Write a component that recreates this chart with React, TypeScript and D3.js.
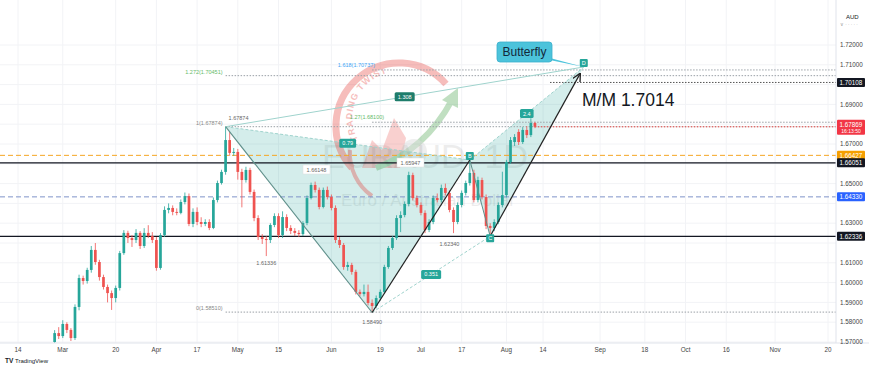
import React, { useEffect } from 'react';
import * as d3 from 'd3';

// EUR/AUD daily, Feb 27 .. Aug 10 (weekday index from Feb 14)
const firstDay = 9;
const opens = [1.5700,1.5745,1.5730,1.5791,1.5761,1.5720,1.5877,1.6023,1.6008,1.6064,1.6165,1.6104,1.6028,1.5978,1.5947,1.5922,1.5973,1.6149,1.6251,1.6225,1.6215,1.6251,1.6185,1.6251,1.6235,1.6215,1.6074,1.6240,1.6367,1.6377,1.6357,1.6352,1.6407,1.6437,1.6296,1.6357,1.6306,1.6296,1.6306,1.6276,1.6417,1.6503,1.6559,1.6720,1.6655,1.6660,1.6559,1.6518,1.6569,1.6458,1.6326,1.6230,1.6220,1.6215,1.6291,1.6336,1.6240,1.6331,1.6276,1.6261,1.6251,1.6245,1.6301,1.6427,1.6493,1.6468,1.6382,1.6468,1.6432,1.6377,1.6215,1.6190,1.6079,1.6089,1.6054,1.5953,1.5942,1.5953,1.5897,1.5882,1.5922,1.5953,1.6079,1.6175,1.6225,1.6326,1.6341,1.6397,1.6543,1.6427,1.6392,1.6352,1.6266,1.6306,1.6427,1.6417,1.6478,1.6453,1.6367,1.6306,1.6392,1.6453,1.6503,1.6554,1.6417,1.6518,1.6432,1.6286,1.6276,1.6306,1.6392,1.6442,1.6609,1.6710,1.6761,1.6710,1.6771,1.6745,1.6806];
const highs = [1.5760,1.5775,1.5810,1.5800,1.5770,1.5890,1.6040,1.6035,1.6075,1.6185,1.6200,1.6115,1.6040,1.5990,1.5960,1.5985,1.6160,1.6265,1.6262,1.6240,1.6270,1.6260,1.6275,1.6290,1.6255,1.6230,1.6250,1.6385,1.6400,1.6390,1.6375,1.6420,1.6455,1.6450,1.6375,1.6380,1.6330,1.6320,1.6320,1.6430,1.6515,1.6570,1.6787,1.6760,1.6680,1.6675,1.6575,1.6585,1.6580,1.6470,1.6340,1.6245,1.6235,1.6300,1.6350,1.6350,1.6360,1.6345,1.6290,1.6275,1.6265,1.6310,1.6440,1.6505,1.6510,1.6480,1.6480,1.6485,1.6445,1.6390,1.6230,1.6200,1.6105,1.6100,1.6065,1.5965,1.5990,1.5990,1.5915,1.5935,1.5965,1.6090,1.6185,1.6235,1.6340,1.6360,1.6410,1.6560,1.6555,1.6440,1.6405,1.6365,1.6320,1.6440,1.6450,1.6495,1.6500,1.6465,1.6380,1.6405,1.6465,1.6515,1.6619,1.6570,1.6535,1.6530,1.6445,1.6300,1.6320,1.6405,1.6560,1.6620,1.6735,1.6750,1.6775,1.6785,1.6790,1.6830,1.6812];
const lows = [1.5690,1.5715,1.5720,1.5745,1.5705,1.5710,1.5860,1.5990,1.5995,1.6050,1.6090,1.6010,1.5965,1.5900,1.5862,1.5900,1.5960,1.6140,1.6200,1.6180,1.6200,1.6170,1.6175,1.6225,1.6200,1.6060,1.6065,1.6230,1.6350,1.6340,1.6340,1.6345,1.6395,1.6285,1.6280,1.6290,1.6280,1.6285,1.6265,1.6270,1.6405,1.6495,1.6545,1.6640,1.6640,1.6520,1.6380,1.6505,1.6445,1.6310,1.6215,1.6195,1.6134,1.6200,1.6280,1.6225,1.6225,1.6260,1.6245,1.6235,1.6230,1.6235,1.6290,1.6420,1.6455,1.6370,1.6375,1.6420,1.6365,1.6200,1.6175,1.6065,1.6060,1.6040,1.5940,1.5930,1.5930,1.5885,1.5849,1.5870,1.5910,1.5945,1.6070,1.6165,1.6215,1.6255,1.6330,1.6385,1.6415,1.6380,1.6340,1.6250,1.6255,1.6295,1.6405,1.6405,1.6440,1.6355,1.6250,1.6295,1.6380,1.6440,1.6490,1.6405,1.6405,1.6420,1.6270,1.6234,1.6260,1.6295,1.6380,1.6430,1.6600,1.6690,1.6695,1.6700,1.6730,1.6735,1.6780];
const closes = [1.5745,1.5730,1.5791,1.5761,1.5720,1.5877,1.6023,1.6008,1.6064,1.6165,1.6104,1.6028,1.5978,1.5947,1.5922,1.5973,1.6149,1.6251,1.6225,1.6215,1.6251,1.6185,1.6251,1.6235,1.6215,1.6074,1.6240,1.6367,1.6377,1.6357,1.6352,1.6407,1.6437,1.6296,1.6357,1.6306,1.6296,1.6306,1.6276,1.6417,1.6503,1.6559,1.6720,1.6655,1.6660,1.6559,1.6518,1.6569,1.6458,1.6326,1.6230,1.6220,1.6215,1.6291,1.6336,1.6240,1.6331,1.6276,1.6261,1.6251,1.6245,1.6301,1.6427,1.6493,1.6468,1.6382,1.6468,1.6432,1.6377,1.6215,1.6190,1.6079,1.6089,1.6054,1.5953,1.5942,1.5953,1.5897,1.5882,1.5922,1.5953,1.6079,1.6175,1.6225,1.6326,1.6341,1.6397,1.6543,1.6427,1.6392,1.6352,1.6266,1.6306,1.6427,1.6417,1.6478,1.6453,1.6367,1.6306,1.6392,1.6453,1.6503,1.6554,1.6417,1.6518,1.6432,1.6286,1.6276,1.6306,1.6392,1.6442,1.6609,1.6720,1.6735,1.6710,1.6771,1.6745,1.6806,1.6787];

const priceTicks = [1.72, 1.71, 1.70, 1.69, 1.68, 1.67, 1.66, 1.65, 1.64, 1.63, 1.62, 1.61, 1.60, 1.59, 1.58, 1.57];
const timeTickLabels = ['14', 'Mar', '20', 'Apr', '17', 'May', '15', 'Jun', '19', 'Jul', '17', 'Aug', '14', 'Sep', '18', 'Oct', '16', 'Nov', '20'];
const timeTickDays = [0, 11, 24, 34, 44, 54, 64, 77, 89, 99, 109, 120, 129, 143, 154, 164, 174, 186, 199];

// XABCD butterfly
const patternDays = [51, 87, 111, 116, 139];
const patternPrices = [1.67874, 1.5849, 1.6619, 1.6234, 1.7089];
const ratioLabels = ['0.79', '0.351', '1.308', '2.4'];

// price markers on the right scale
const markerPrices = [1.70108, 1.66427, 1.66051, 1.6433, 1.62336];
const markerLabels = ['1.70108', '1.66427', '1.66051', '1.64330', '1.62336'];
const lastPrice = 1.67869;

const fibXPrices = [1.5851, 1.67874, 1.70451];
const fibXLabels = ['0(1.58510)', '1(1.67874)', '1.272(1.70451)'];
const fibAPrices = [1.681, 1.7074];
const fibALabels = ['1.27(1.68100)', '1.618(1.70737)'];

const W = 869;
const H = 369;
const paneR = 836;
const paneB = 343;
const font = '"Liberation Sans", Arial, sans-serif';
const UP = '#26a69a';
const DOWN = '#ef5350';

export default function App() {
  useEffect(() => {
    document.body.style.margin = '0';
  }, []);

  const x = d3.scaleLinear().domain([0, 199]).range([18, 828]);
  const y = d3.scaleLinear().domain([1.57, 1.72]).range([342, 45]);
  const bw = 2.7;

  const pts = patternDays.map((d, i) => [x(d), y(patternPrices[i])] as [number, number]);
  const [X, A, B, C, D] = pts;
  const line = d3.line();
  const mid = (p: number[], q: number[]) => [(p[0] + q[0]) / 2, (p[1] + q[1]) / 2];
  const ratioPos = [mid(X, B), mid(A, C), mid(X, D), mid(B, D)];

  const markerColors = ['#131722', '#f59f00', '#131722', '#2962ff', '#131722'];
  const markerYs = markerPrices.map(p => y(p));
  const lastY = y(lastPrice);
  const boxYs = [...markerYs, lastY];
  const shownTicks = priceTicks.filter(p => boxYs.every(b => Math.abs(y(p) - b) > 8));

  const arrowEnd = [C[0] + (D[0] - C[0]) * 0.955, C[1] + (D[1] - C[1]) * 0.955];

  return (
    <div style={{ position: 'fixed', left: 0, top: 0 }}>
      <svg width={W} height={H} style={{ display: 'block', background: '#fff', fontFamily: font }}>
        <defs>
          <clipPath id="pane"><rect x={0} y={0} width={paneR} height={paneB} /></clipPath>
          <marker id="arr" viewBox="0 0 10 10" refX="8" refY="5" markerWidth="7" markerHeight="7" orient="auto">
            <path d="M0,0 L10,5 L0,10" fill="none" stroke="#222" strokeWidth={1.6} />
          </marker>
          <path id="logoArc" d="M 358 140 A 46 46 0 0 1 440 96" />
        </defs>

        <g clipPath="url(#pane)">
          {/* grid */}
          {priceTicks.map(p => (
            <line key={'g' + p} x1={0} x2={paneR} y1={y(p)} y2={y(p)} stroke="#f2f3f6" />
          ))}
          {timeTickDays.map((d, i) => (
            <line key={'v' + i} x1={x(d)} x2={x(d)} y1={0} y2={paneB} stroke="#f2f3f6" />
          ))}

          {/* watermark */}
          <text x={425} y={168} textAnchor="middle" fontSize={34} fill="#000" opacity={0.07}>EURAUD, 1D</text>
          <text x={428} y={206} textAnchor="middle" fontSize={17} fill="#000" opacity={0.07}>Euro / Australian Dollar</text>

          {/* pattern fill */}
          <path d={line([X, A, B])! + 'Z'} fill={UP} opacity={0.2} />
          <path d={line([B, C, D])! + 'Z'} fill={UP} opacity={0.2} />

          {/* logo */}
          <g opacity={0.33}>
            <path d="M 352 168 A 54 54 0 0 1 446 84" fill="none" stroke="#e53935" strokeWidth={7} />
            <path d="M 372 196 A 52 52 0 0 1 350 150" fill="none" stroke="#e53935" strokeWidth={4} />
            <text fontSize={9} fontWeight="bold" fill="#e53935" letterSpacing={1}>
              <textPath href="#logoArc">TRADING TWIST</textPath>
            </text>
            <path d="M 362 168 L 372 140 L 382 150 L 394 118 L 406 138 L 400 168 Z" fill="#e53935" opacity={0.7} />
            <path d="M 376 168 Q 425 150 452 100" fill="none" stroke="#43a047" strokeWidth={6} />
            <path d="M 442 100 L 458 88 L 458 108 Z" fill="#43a047" />
            <circle cx={414} cy={152} r={13} fill="#9e9e9e" opacity={0.5} />
          </g>

          {/* horizontal levels */}
          <line x1={0} x2={paneR} y1={markerYs[1]} y2={markerYs[1]} stroke="#f5a623" strokeDasharray="5,3" />
          <line x1={0} x2={paneR} y1={markerYs[2]} y2={markerYs[2]} stroke="#131722" strokeWidth={1.2} />
          <line x1={0} x2={paneR} y1={markerYs[3]} y2={markerYs[3]} stroke="#7f93c9" strokeDasharray="5,3" />
          <line x1={0} x2={paneR} y1={markerYs[4]} y2={markerYs[4]} stroke="#131722" strokeWidth={1.2} />
          <line x1={550} x2={paneR} y1={markerYs[0]} y2={markerYs[0]} stroke="#555" strokeDasharray="1.5,1.5" />

          {/* fib levels */}
          {fibXPrices.map((p, i) => (
            <g key={'fx' + i}>
              <line x1={X[0]} x2={paneR} y1={y(p)} y2={y(p)} stroke="#9aa0a6" strokeDasharray="1.5,1.5" />
              <text x={X[0] - 3} y={y(p) - 2} textAnchor="end" fontSize={5.5}
                fill={i === 2 ? '#66bb6a' : '#888'}>{fibXLabels[i]}</text>
            </g>
          ))}
          {fibAPrices.map((p, i) => (
            <g key={'fa' + i}>
              <line x1={A[0]} x2={paneR} y1={y(p)} y2={y(p)} stroke="#9aa0a6" strokeDasharray="1.5,1.5" />
              <text x={A[0] + (i === 0 ? 12 : 3)} y={y(p) - 3} textAnchor="end" fontSize={5.5}
                fill={i === 0 ? '#66bb6a' : '#42a5f5'}>{fibALabels[i]}</text>
            </g>
          ))}
          <line x1={x(firstDay + closes.length - 1)} x2={paneR} y1={lastY} y2={lastY} stroke={DOWN} strokeDasharray="1.5,1.5" />

          {/* candles */}
          {closes.map((c, k) => {
            const o = opens[k];
            const cx = x(firstDay + k);
            const col = c >= o ? UP : DOWN;
            const top = y(Math.max(o, c));
            const h = Math.max(0.8, Math.abs(y(o) - y(c)));
            return (
              <g key={'c' + k}>
                <line x1={cx} x2={cx} y1={y(highs[k])} y2={y(lows[k])} stroke={col} strokeWidth={0.8} />
                <rect x={cx - bw / 2} y={top} width={bw} height={h} fill={col} />
              </g>
            );
          })}

          {/* pattern edges */}
          <path d={line([X, D])!} stroke="#9fd3cd" fill="none" />
          <path d={line([X, B])!} stroke="#9fd3cd" fill="none" strokeDasharray="3,2" />
          <path d={line([A, C])!} stroke="#9fd3cd" fill="none" strokeDasharray="3,2" />
          <path d={line([B, D])!} stroke="#9fd3cd" fill="none" strokeDasharray="3,2" />
          <path d={line([X, A])!} stroke="#5f8f8a" fill="none" strokeWidth={1.1} />
          <path d={line([B, C])!} stroke="#5f8f8a" fill="none" strokeWidth={1} />
          <path d={line([A, B])!} stroke="#222" fill="none" strokeWidth={1.2} />
          <path d={line([C, arrowEnd as [number, number]])!} stroke="#222" fill="none" strokeWidth={1.2} markerEnd="url(#arr)" />

          {ratioLabels.map((t, i) => {
            const [rx, ry] = ratioPos[i];
            const w = t.length * 3.2 + 4;
            return (
              <g key={'r' + i}>
                <rect x={rx - w / 2} y={ry - 4.5} width={w} height={9} rx={1.5} fill={i === 2 ? '#1e7d6b' : UP} />
                <text x={rx} y={ry + 2} textAnchor="middle" fontSize={5.5} fill="#fff">{t}</text>
              </g>
            );
          })}

          {['B', 'C', 'D'].map((n, i) => {
            const [px, py] = pts[i + 2];
            const oy = n === 'C' ? 2 : -4;
            return (
              <g key={n}>
                <rect x={px - 4} y={py + oy - 4} width={8} height={8} rx={1} fill={UP} />
                <text x={px} y={py + oy + 2} textAnchor="middle" fontSize={5.5} fill="#fff">{n}</text>
              </g>
            );
          })}

          {/* pivot labels */}
          <text x={X[0] + 3} y={X[1] - 7} fontSize={5.5} fill="#666">1.67874</text>
          <text x={A[0]} y={A[1] + 12} textAnchor="middle" fontSize={5.5} fill="#666">1.58490</text>
          <text x={x(61)} y={y(1.6134) + 9} textAnchor="middle" fontSize={5.5} fill="#666">1.61336</text>
          <text x={x(106)} y={y(1.6234) + 10} textAnchor="middle" fontSize={5.5} fill="#666">1.62340</text>
          <rect x={303} y={165} width={27} height={9} fill="#fff" stroke="#ddd" strokeWidth={0.5} />
          <text x={316.5} y={171.5} textAnchor="middle" fontSize={5.5} fill="#666">1.66148</text>
          <rect x={397} y={158} width={27} height={9} fill="#fff" stroke="#ddd" strokeWidth={0.5} />
          <text x={410.5} y={164.5} textAnchor="middle" fontSize={5.5} fill="#666">1.65947</text>

          {/* callout */}
          <path d={`M 540 58 L 550 58 L ${D[0]} ${D[1]} Z`} fill="#4cc3db" />
          <rect x={497} y={42} width={55} height={20} rx={3} fill="#4cc3db" stroke="#3aaecb" strokeWidth={0.8} />
          <text x={524.5} y={56} textAnchor="middle" fontSize={12} fill="#13283a">Butterfly</text>
          <text x={582} y={106} fontSize={17.5} fill="#131722">M/M 1.7014</text>
        </g>

        {/* axes */}
        <line x1={paneR} x2={paneR} y1={0} y2={paneB} stroke="#e0e3eb" />
        <line x1={0} x2={W} y1={paneB} y2={paneB} stroke="#e0e3eb" />
        <text x={846} y={19} fontSize={6} fill="#131722">AUD</text>
        <text x={840} y={26} fontSize={4.5} fill="#999">∨ · · · · ·</text>
        {shownTicks.map(p => (
          <text key={'t' + p} x={840} y={y(p) + 2.2} fontSize={6.3} fill="#444">{p.toFixed(5)}</text>
        ))}
        {markerYs.map((my, i) => (
          <g key={'m' + i}>
            <rect x={837} y={my - 4.5} width={28} height={9} rx={1} fill={markerColors[i]} />
            <text x={851} y={my + 2.2} textAnchor="middle" fontSize={6.3} fill="#fff">{markerLabels[i]}</text>
          </g>
        ))}
        <rect x={837} y={lastY - 7} width={28} height={15} rx={1} fill="#f23645" />
        <text x={851} y={lastY + 0.5} textAnchor="middle" fontSize={6.3} fill="#fff">{lastPrice.toFixed(5)}</text>
        <text x={851} y={lastY + 6.5} textAnchor="middle" fontSize={5} fill="#fff">16:13:50</text>

        {timeTickLabels.map((t, i) => (
          <text key={'x' + i} x={x(timeTickDays[i])} y={352} textAnchor="middle" fontSize={6.3} fill="#444">{t}</text>
        ))}

        <g transform="translate(5,360)">
          <text x={0} y={3} fontSize={6.5} fontWeight="bold" fill="#131722">TV</text>
          <text x={10} y={3} fontSize={6} fill="#131722">TradingView</text>
        </g>
      </svg>
    </div>
  );
}
